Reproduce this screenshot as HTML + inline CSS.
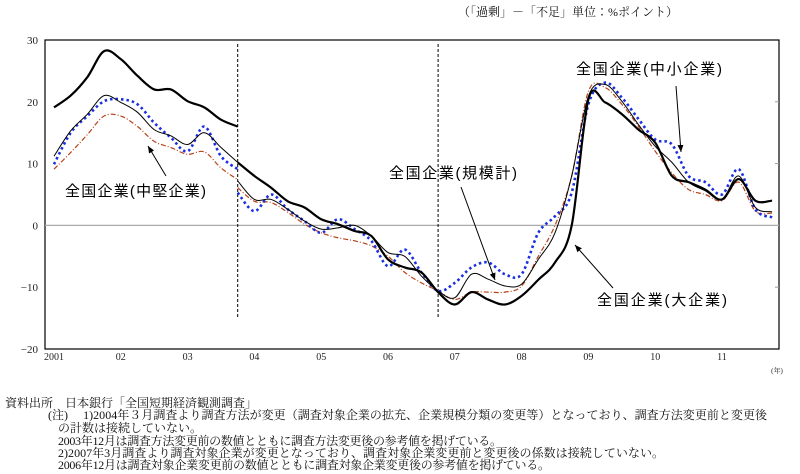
<!DOCTYPE html>
<html><head><meta charset="utf-8">
<style>
body{margin:0;width:800px;height:474px;background:#fff;overflow:hidden;}
svg{display:block;}
.ax{font-family:"Liberation Serif","Noto Serif CJK JP",serif;font-size:11px;fill:#222;}
.lbl{font-family:"Liberation Sans","Noto Sans CJK JP",sans-serif;font-size:15px;fill:#000;}
.note{font-family:"Liberation Serif","Noto Serif CJK JP",serif;font-size:12px;fill:#111;}
</style></head>
<body>
<svg id="chart" width="800" height="474">
<text class="note" x="458" y="16" style="font-size:12px">（「過剰」－「不足」単位：%ポイント）</text>
<rect x="45" y="40" width="734" height="309" fill="none" stroke="#000" stroke-width="1.2"/>
<g id="axes"></g>
<g id="series"></g>
<g>
<text class="lbl" x="65" y="196" textLength="141">全国企業(中堅企業)</text>
<text class="lbl" x="389" y="178" textLength="128">全国企業(規模計)</text>
<text class="lbl" x="576" y="74" textLength="146">全国企業(中小企業)</text>
<text class="lbl" x="597" y="305" textLength="130">全国企業(大企業)</text>
<defs><marker id="ah" markerWidth="8" markerHeight="8" refX="7" refY="4" orient="auto"><path d="M0,1 L7,4 L0,7 z" fill="#000"/></marker></defs>
<line x1="166" y1="176" x2="148" y2="146" stroke="#000" marker-end="url(#ah)"/>
<line x1="461" y1="187" x2="495" y2="280" stroke="#000" marker-end="url(#ah)"/>
<line x1="676" y1="86" x2="681" y2="152" stroke="#000" marker-end="url(#ah)"/>
<line x1="613" y1="288" x2="575" y2="245" stroke="#000" marker-end="url(#ah)"/>
</g>
<g>
<text class="note" x="5" y="407">資料出所　日本銀行「全国短期経済観測調査」</text>
<text class="note" x="48" y="419" textLength="719">(注)　 1)2004年３月調査より調査方法が変更（調査対象企業の拡充、企業規模分類の変更等）となっており、調査方法変更前と変更後</text>
<text class="note" x="58" y="432">の計数は接続していない。</text>
<text class="note" x="58" y="445" textLength="444">2003年12月は調査方法変更前の数値とともに調査方法変更後の参考値を掲げている。</text>
<text class="note" x="58" y="457" textLength="606">2)2007年3月調査より調査対象企業が変更となっており、調査対象企業変更前と変更後の係数は接続していない。</text>
<text class="note" x="58" y="469" textLength="492">2006年12月は調査対象企業変更前の数値とともに調査対象企業変更後の参考値を掲げている。</text>
</g>
</svg>
<script>
const yTicks=[30,20,10,0,-10,-20];
const xLabels=["2001","02","03","04","05","06","07","08","09","10","11"];
// quarterly, index 0 = 2001 Mar; old series idx 0..11, new series idx 11..43
const largeOld=[19.1,21,24,28.2,26.9,24.2,22,22,20.1,19.1,17.1,16];
const largeNew=[10.2,8,6.1,3.9,2.9,1,0.2,-0.9,-1.7,-5.5,-6.8,-7.6,-10.8,-12.8,-10.8,-12,-12.8,-11.4,-8.8,-6,0,20.4,19.9,18,15.5,13.4,8,7,5.8,4.2,7.5,4,4];
const allOld=[11.2,15.3,18,21,19.9,18.3,15.5,14.5,13.1,15,12.6,10.2];
const allNew=[7.2,4.2,4.2,2.6,0.7,-0.6,-0.4,0,-1.7,-4.4,-5,-8.2,-10.6,-11.7,-7.9,-8.7,-9.8,-9.5,-5.5,-1.2,8,20.9,22.8,20.1,16.3,12.8,10.2,7,5.6,4.2,8,2.9,2.2];
const smallOld=[9.9,15,17.7,20.1,20.4,19.6,16.6,14.2,12,16,11.2,9.1];
const smallNew=[5.3,2.3,5,2.6,0.7,-1.2,1,-0.6,-2.5,-6.6,-3.9,-7.6,-10.6,-9.3,-6.8,-6,-7.9,-7.9,-1.2,1.5,5.3,19.6,23.1,20.7,17.2,13.9,13.1,8,7,5,9.1,2.6,1.3];
const midOld=[9.1,11.8,14.7,17.7,17.7,16,13.6,12.6,11.5,11.9,9.3,7.4];
const midNew=[6.1,3.9,3.7,2.1,0.2,-1.2,-2,-2.5,-3.3,-5,-7.6,-9.3,-10.6,-12,-10.8,-10.8,-10.8,-9.8,-5,0,8,21.7,22.3,19.6,16,12,8.5,5.8,5,4,7,2.3,2];
const breaks=[11,23];

const NS="http://www.w3.org/2000/svg";
const X0=54,DX=16.7,PT=40,PB=349,YMAX=30,YMIN=-20;
const xs=i=>X0+DX*i;
const ys=v=>PT+(YMAX-v)/(YMAX-YMIN)*(PB-PT);
function mk(t,a,p){const e=document.createElementNS(NS,t);for(const k in a)e.setAttribute(k,a[k]);p.appendChild(e);return e;}
const axes=document.getElementById('axes');
yTicks.forEach(v=>{
  const t=mk('text',{x:38,y:ys(v)+4,'text-anchor':'end',class:'ax'},axes);t.textContent=v<0?'−'+(-v):v;
  
  
  if(v!==YMAX&&v!==YMIN&&v!==0){const l=mk('line',{x1:775,x2:779,y1:ys(v),y2:ys(v),stroke:'#999'},axes);
  
  }
});
const z=mk('line',{x1:45,x2:779,y1:ys(0),y2:ys(0),stroke:'#aaa','stroke-width':1.3},axes);


xLabels.forEach((s,k)=>{
  const t=mk('text',{x:xs(k*4),y:360,'text-anchor':'middle',class:'ax',style:'font-size:10px'},axes);t.textContent=s;
  
  
});
const yr=mk('text',{x:777,y:373,'text-anchor':'middle',class:'ax',style:'font-size:7px'},axes);yr.textContent='(年)';


breaks.forEach(i=>{
  const l=mk('line',{x1:xs(i),x2:xs(i),y1:44,y2:ys(-15),stroke:'#000','stroke-dasharray':'3,2'},axes);
  
  
});
function path(vals,start){
  const p=vals.map((v,k)=>[xs(start+k),ys(v)]);
  let d='M'+p[0][0]+','+p[0][1];
  for(let k=0;k<p.length-1;k++){
    const a=p[k-1]||p[k],b=p[k],c=p[k+1],e=p[k+2]||c;
    d+=` C${b[0]+(c[0]-a[0])/6},${b[1]+(c[1]-a[1])/6} ${c[0]-(e[0]-b[0])/6},${c[1]-(e[1]-b[1])/6} ${c[0]},${c[1]}`;
  }
  return d;
}
const sg=document.getElementById('series');
const defs=[
 [midOld,midNew,{stroke:'#b5421a','stroke-width':1.2,'stroke-dasharray':'5,2,1,2'},'series-midsize'],
 [smallOld,smallNew,{stroke:'#1a2fe0','stroke-width':2.6,'stroke-dasharray':'2.5,3'},'series-small'],
 [allOld,allNew,{stroke:'#000','stroke-width':1},'series-all-sizes'],
 [largeOld,largeNew,{stroke:'#000','stroke-width':2.2},'series-large']
];
defs.forEach(([o,n,st,name])=>{
  [[o,0],[n,11]].forEach(([arr,s])=>{
    const el=mk('path',Object.assign({d:path(arr,s),fill:'none'},st),sg);
    
    
  });
});
</script>
</body></html>
